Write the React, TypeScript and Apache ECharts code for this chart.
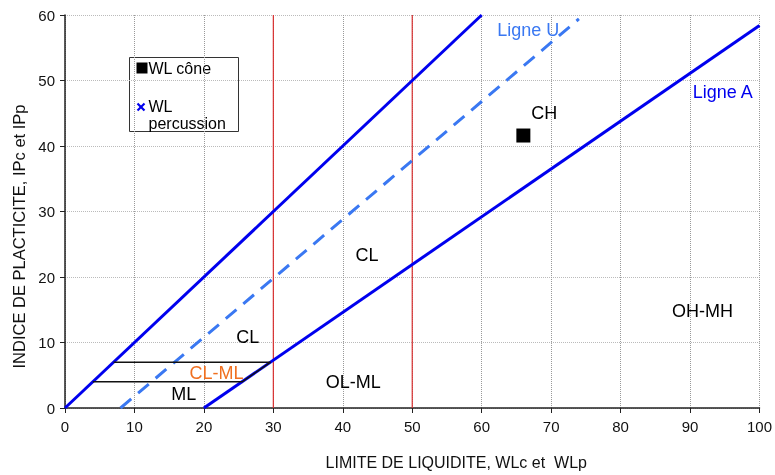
import React, { useEffect, useRef } from "react";
import * as echarts from "echarts";

// Reference lines (LL, PI)
const lineUpper = [[0, 0], [60, 60]];
const ligneU = [[8, 0], [74, 59.4]];
const ligneA = [[20, 0], [100, 58.4]];
const redLine30 = [[30, 0], [30, 60]];
const redLine50 = [[50, 0], [50, 60]];
const clmlBorder = [[7, 7], [29.6, 7], [25.5, 4], [4, 4]];

// Measured points
const wlCone = [[66, 41.6]];
const wlPercussion: number[][] = [];

// Zone labels: [LL, PI, text]
const zoneLabels: [number, number, string][] = [
  [69, 45, "CH"],
  [43.5, 23.3, "CL"],
  [91.8, 14.8, "OH-MH"],
  [26.3, 10.8, "CL"],
  [17.1, 2.1, "ML"],
  [41.5, 3.9, "OL-ML"],
];
const orangeLabels: [number, number, string][] = [[21.8, 5.4, "CL-ML"]];
const uLabel: [number, number, string][] = [[66.7, 57.7, "Ligne U"]];
const aLabel: [number, number, string][] = [[94.7, 48.2, "Ligne A"]];

const FONT = "'Liberation Sans', Arial, sans-serif";

function labelSeries(data: [number, number, string][], color: string) {
  return {
    type: "scatter",
    symbolSize: 0,
    silent: true,
    itemStyle: { opacity: 1 },
    data: data.map((d) => ({ value: [d[0], d[1]], name: d[2] })),
    label: {
      show: true,
      position: "inside",
      formatter: (p: any) => p.name,
      color,
      opacity: 1,
      fontSize: 18,
      fontFamily: FONT,
    },
    z: 5,
  };
}

export default function App() {
  const ref = useRef<HTMLDivElement>(null);
  useEffect(() => {
    if (!ref.current) return;
    const chart = echarts.init(ref.current, undefined, { renderer: "svg" });
    const lineBase = (data: number[][], color: string, width: number, type: any = "solid", z = 3) => ({
      type: "line",
      data,
      symbol: "none",
      silent: true,
      lineStyle: { color, width, type },
      z,
    });
    chart.setOption({
      animation: false,
      textStyle: { fontFamily: FONT },
      grid: { left: 65, right: 13, top: 15, bottom: 64 },
      xAxis: {
        type: "value",
        min: 0,
        max: 100,
        interval: 10,
        name: "LIMITE DE LIQUIDITE, WLc et  WLp",
        nameLocation: "middle",
        nameGap: 46,
        nameTextStyle: { fontSize: 16, color: "#111", fontFamily: FONT, padding: [0, 0, 0, 88] },
        axisLine: { show: true, lineStyle: { color: "#222", width: 1.5 } },
        axisTick: { show: true, length: 5, lineStyle: { color: "#222" } },
        axisLabel: { fontSize: 15, color: "#111", margin: 11, fontFamily: FONT },
        splitLine: { show: true, lineStyle: { color: "#999", type: "dotted", width: 1 } },
      },
      yAxis: {
        type: "value",
        min: 0,
        max: 60,
        interval: 10,
        name: "INDICE DE PLACTICITE, IPc et IPp",
        nameLocation: "middle",
        nameGap: 38,
        nameTextStyle: { fontSize: 16.5, color: "#111", fontFamily: FONT, padding: [0, 50, 0, 0] },
        axisLine: { show: true, lineStyle: { color: "#222", width: 1.5 } },
        axisTick: { show: true, length: 5, lineStyle: { color: "#222" } },
        axisLabel: { fontSize: 15, color: "#111", margin: 10, fontFamily: FONT },
        splitLine: { show: true, lineStyle: { color: "#bbb", type: "dotted", width: 1 } },
      },
      series: [
        lineBase(redLine30, "#d83030", 1.2, "solid", 2),
        lineBase(redLine50, "#d83030", 1.2, "solid", 2),
        lineBase(lineUpper, "#0000ee", 3),
        lineBase(ligneU, "#3a78f2", 3, [14, 9]),
        lineBase(ligneA, "#0000ee", 3),
        lineBase(clmlBorder, "#111", 1.5, "solid", 4),
        {
          name: "WL cône",
          type: "scatter",
          data: wlCone,
          symbol: "rect",
          symbolSize: 14,
          itemStyle: { color: "#000", opacity: 1 },
          z: 6,
        },
        {
          name: "WL percussion",
          type: "scatter",
          data: wlPercussion,
          symbol: "path://M0,0L10,10M10,0L0,10",
          symbolSize: 8,
          itemStyle: { color: "#0000ee", borderColor: "#0000ee", borderWidth: 2, opacity: 1 },
          z: 6,
        },
        labelSeries(zoneLabels, "#000"),
        labelSeries(orangeLabels, "#f07020"),
        labelSeries(uLabel, "#3a78f2"),
        labelSeries(aLabel, "#0000ee"),
      ],
      graphic: [
        {
          type: "group",
          left: 129,
          top: 57,
          z: 10,
          children: [
            { type: "rect", shape: { x: 0, y: 0, width: 109, height: 74 }, style: { fill: "#fff", stroke: "#333", lineWidth: 1 } },
            { type: "rect", shape: { x: 7, y: 5, width: 11, height: 11 }, style: { fill: "#000" } },
            { type: "text", x: 19, y: 11, style: { text: "WL cône", fontSize: 16, fontFamily: FONT, fill: "#000", verticalAlign: "middle" } },
            { type: "line", shape: { x1: 8, y1: 46, x2: 15, y2: 53 }, style: { stroke: "#0000ee", lineWidth: 2.2 } },
            { type: "line", shape: { x1: 15, y1: 46, x2: 8, y2: 53 }, style: { stroke: "#0000ee", lineWidth: 2.2 } },
            { type: "text", x: 19, y: 49, style: { text: "WL", fontSize: 16, fontFamily: FONT, fill: "#000", verticalAlign: "middle" } },
            { type: "text", x: 19, y: 66, style: { text: "percussion", fontSize: 16, fontFamily: FONT, fill: "#000", verticalAlign: "middle" } },
          ],
        },
      ],
    });
    return () => chart.dispose();
  }, []);
  return <div ref={ref} style={{ width: 775, height: 475, position: "fixed", left: 0, top: 0 }} />;
}
